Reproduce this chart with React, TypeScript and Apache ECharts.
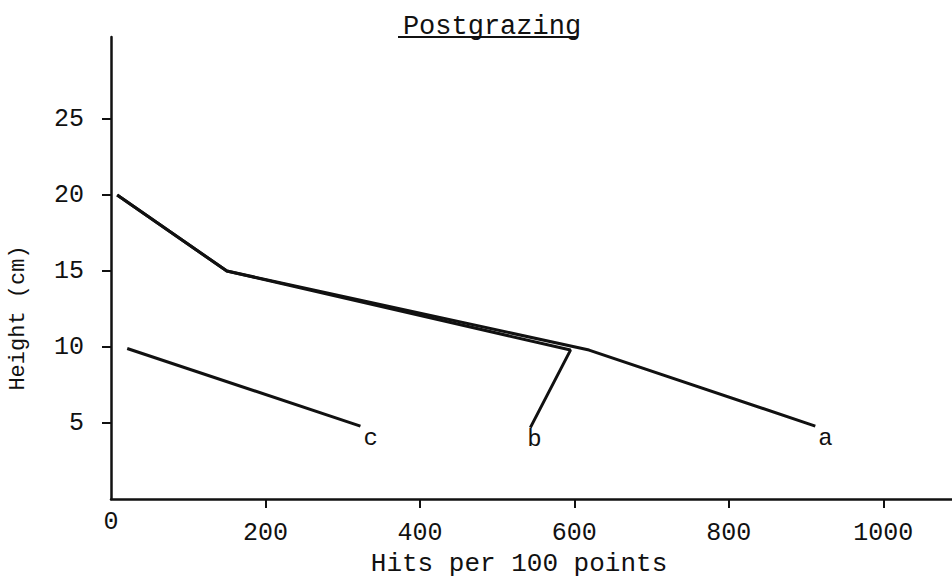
import React, { useEffect, useRef } from "react";
import * as echarts from "echarts";

const titleText = "Postgrazing";
const xName = "Hits per 100 points";
const yName = "Height (cm)";
const xTicks = [200, 400, 600, 800, 1000];
const xLabels = [200, 400, 600, 800, 1000];
const yTicks = [5, 10, 15, 20, 25];

const seriesA = [[8, 20], [150, 15], [619, 9.8], [912, 4.8]];
const seriesB = [[8, 20], [150, 15], [595, 9.8], [543, 4.7]];
const seriesC = [[21, 9.9], [323, 4.8]];

const FONT = '"Liberation Mono", "Courier New", monospace';
const INK = "#111";

export default function App() {
  const ref = useRef<HTMLDivElement>(null);
  useEffect(() => {
    if (!ref.current) return;
    const chart = echarts.init(ref.current, undefined, { renderer: "svg" });
    const lineBase = (name: string, data: number[][], off: number[]) => ({
      type: "line",
      name,
      data,
      showSymbol: false,
      symbol: "none",
      lineStyle: { color: INK, width: 3 },
      itemStyle: { color: INK },
      endLabel: {
        show: true,
        formatter: "{a}",
        distance: 3,
        offset: off,
        color: INK,
        fontFamily: FONT,
        fontSize: 24,
      },
      z: 3,
    });
    const plain = (v: number) => String(v);
    chart.setOption({
      animation: false,
      backgroundColor: "#fff",
      title: {
        text: titleText,
        left: 487,
        top: 8,
        textAlign: "center",
        textStyle: { fontFamily: FONT, fontSize: 27, fontWeight: "normal", color: INK },
      },
      grid: { left: 111, right: 0, top: 37, bottom: 82, containLabel: false, outerBoundsMode: "none" },
      xAxis: [
        {
          type: "value",
          min: 0,
          max: 1089,
          interval: 200,
          position: "bottom",
          splitLine: { show: false },
          axisLine: { show: true, onZero: false, lineStyle: { color: INK, width: 2.5 } },
          axisTick: { show: true, length: 9, customValues: xTicks, lineStyle: { color: INK, width: 2 } },
          axisLabel: {
            customValues: xLabels,
            formatter: plain,
            margin: 22,
            color: INK,
            fontFamily: FONT,
            fontSize: 25,
          },
        },
        {
          type: "value",
          min: 0,
          max: 1089,
          interval: 200,
          position: "bottom",
          offset: 0,
          splitLine: { show: false },
          axisLine: { show: false },
          axisTick: { show: false },
          axisLabel: {
            customValues: [0],
            formatter: plain,
            margin: 11,
            color: INK,
            fontFamily: FONT,
            fontSize: 25,
          },
        },
      ],
      yAxis: {
        type: "value",
        min: 0,
        max: 30.4,
        interval: 5,
        splitLine: { show: false },
        axisLine: { show: true, onZero: false, lineStyle: { color: INK, width: 2.5 } },
        axisTick: { show: true, length: 9, customValues: yTicks, lineStyle: { color: INK, width: 2 } },
        axisLabel: {
          customValues: yTicks,
          formatter: plain,
          margin: 27,
          color: INK,
          fontFamily: FONT,
          fontSize: 25,
        },
      },
      graphic: [
        {
          type: "line",
          shape: { x1: 398, y1: 37, x2: 578, y2: 37 },
          style: { stroke: INK, lineWidth: 2 },
        },
        {
          type: "text",
          x: 519,
          y: 564,
          style: {
            text: xName,
            fontFamily: FONT,
            fontSize: 26,
            fill: INK,
            align: "center",
            verticalAlign: "middle",
          },
        },
        {
          type: "text",
          x: 18,
          y: 318,
          rotation: Math.PI / 2,
          style: {
            text: yName,
            fontFamily: FONT,
            fontSize: 22,
            fill: INK,
            align: "center",
            verticalAlign: "middle",
          },
        },
      ],
      series: [
        lineBase("a", seriesA, [0, 12]),
        lineBase("b", seriesB, [-6, 12]),
        lineBase("c", seriesC, [0, 12]),
      ],
    });
    return () => chart.dispose();
  }, []);
  return (
    <div
      ref={ref}
      style={{ position: "absolute", left: 0, top: 0, width: 952, height: 581 }}
    />
  );
}
